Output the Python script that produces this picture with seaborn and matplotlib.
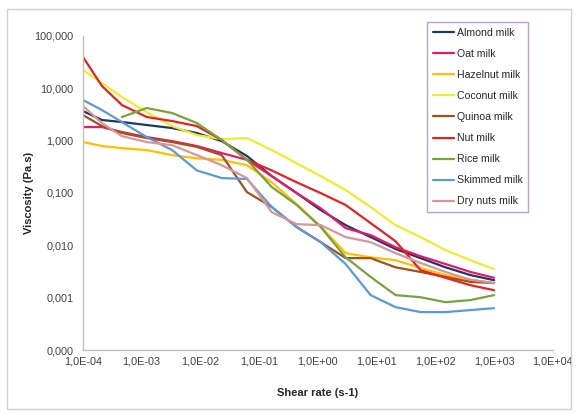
import matplotlib
matplotlib.use("Agg")
import matplotlib.pyplot as plt
import matplotlib.ticker as mticker
from matplotlib.patches import Rectangle
import numpy as np
import pandas as pd
import seaborn as sns

# shear rate grid (s-1)
shear = [1.0e-4, 2.1e-4, 4.6e-4, 1.22e-3, 3.3e-3, 8.7e-3, 2.3e-2, 6.2e-2, 0.164,
         0.436, 1.12, 2.97, 7.9, 21, 56, 149, 397, 1000]

almond = [3.68, 2.48, 2.27, 1.99, 1.74, 1.40, 0.98, 0.51, 0.21, 0.0995, 0.047,
          0.0243, 0.0144, 0.0085, 0.0057, 0.0038, 0.0027, 0.00216]
oat = [1.82, 1.82, 1.46, 1.17, 0.98, 0.79, 0.58, 0.43, 0.21, 0.0995, 0.051,
       0.0213, 0.0157, 0.0092, 0.0062, 0.0044, 0.0031, 0.0024]
hazelnut = [0.94, 0.79, 0.72, 0.66, 0.53, 0.46, 0.43, 0.34, 0.16, 0.061, 0.023,
            0.0071, 0.0059, 0.0052, 0.0037, 0.0027, 0.0022, 0.0019]
coconut = [22.4, 12.6, 6.8, 3.5, 1.90, 1.28, 1.07, 1.12, 0.66, 0.37, 0.21,
           0.114, 0.054, 0.0243, 0.0144, 0.0081, 0.0052, 0.0035]
quinoa = [3.09, 1.90, 1.40, 1.12, 0.94, 0.76, 0.53, 0.104, 0.054, 0.0223, 0.0115,
          0.0057, 0.0057, 0.0038, 0.0031, 0.0025, 0.0020, 0.0019]
nut = [39.7, 11.1, 4.8, 2.83, 2.37, 1.90, 1.03, 0.43, 0.27, 0.16, 0.0995,
       0.059, 0.0266, 0.0120, 0.00336, 0.0024, 0.00173, 0.00139]
rice = [np.nan, np.nan, 2.83, 4.2, 3.37, 2.17, 1.03, 0.43, 0.130, 0.059, 0.0223,
        0.0059, 0.0025, 0.00112, 0.00102, 0.00082, 0.00090, 0.00112]
skimmed = [5.97, 3.85, 2.27, 1.17, 0.66, 0.27, 0.193, 0.185, 0.054, 0.0223, 0.0115,
           0.0044, 0.00112, 0.00066, 0.00053, 0.00053, 0.00058, 0.00063]
dry_nuts = [4.6, 2.17, 1.22, 0.94, 0.82, 0.53, 0.34, 0.193, 0.043, 0.0254, 0.0243,
            0.0144, 0.0115, 0.0071, 0.0046, 0.0031, 0.0022, 0.0019]

series = {
    "Almond milk": almond,
    "Oat milk": oat,
    "Hazelnut milk": hazelnut,
    "Coconut milk": coconut,
    "Quinoa milk": quinoa,
    "Nut milk": nut,
    "Rice milk": rice,
    "Skimmed milk": skimmed,
    "Dry nuts milk": dry_nuts,
}
colors = ["#1F3864", "#E8196B", "#FFC000", "#EDED2E", "#A0521B",
          "#E62222", "#77A33F", "#5B9BD5", "#D9969A"]

df = pd.concat(
    [pd.DataFrame({"shear": shear, "visc": v, "milk": k}) for k, v in series.items()],
    ignore_index=True,
).dropna()

sns.set_style("white")
plt.rcParams["font.family"] = ["Liberation Sans", "DejaVu Sans"]

fig = plt.figure(figsize=(5.77, 4.15), dpi=100)
ax = fig.add_axes([0.1438, 0.1566, 0.8142, 0.7567])

sns.lineplot(data=df, x="shear", y="visc", hue="milk", hue_order=list(series),
             palette=colors, estimator=None, sort=False, linewidth=1.6, ax=ax)

ax.set_xscale("log")
ax.set_yscale("log")
ax.set_xlim(1e-4, 1e4)
ax.set_ylim(1e-4, 100)
ax.xaxis.set_major_locator(mticker.LogLocator(base=10, numticks=20))
ax.yaxis.set_major_locator(mticker.LogLocator(base=10, numticks=20))
ax.xaxis.set_minor_locator(mticker.NullLocator())
ax.yaxis.set_minor_locator(mticker.NullLocator())
ax.xaxis.set_major_formatter(mticker.FuncFormatter(lambda v, p: f"{v:.1E}".replace(".", ",")))
ax.yaxis.set_major_formatter(mticker.FuncFormatter(lambda v, p: f"{v:.3f}".replace(".", ",")))
ax.tick_params(axis="both", length=0, labelsize=7.8, colors="#404040")
ax.tick_params(axis="y", pad=7)
ax.tick_params(axis="x", pad=5)

for s in ["top", "right"]:
    ax.spines[s].set_visible(False)
for s in ["left", "bottom"]:
    ax.spines[s].set_color("#BFBFBF")
    ax.spines[s].set_linewidth(1.0)

ax.set_xlabel("Shear rate (s-1)", fontsize=8, fontweight="bold", color="#262626", labelpad=15)
ax.set_ylabel("Viscosity (Pa.s)", fontsize=8, fontweight="bold", color="#262626", labelpad=0)

handles, labels = ax.get_legend_handles_labels()
leg = ax.legend(handles, labels, loc="upper left", bbox_to_anchor=(0.740, 0.947),
                bbox_transform=fig.transFigure, fontsize=7.6, frameon=True,
                fancybox=False, borderaxespad=0, handlelength=2.0, handletextpad=0.25,
                labelspacing=1.05, borderpad=0.55)
leg.get_frame().set_edgecolor("#A58BC6")
leg.get_frame().set_linewidth(1.0)
for line in leg.get_lines():
    line.set_linewidth(1.6)

fig.patches.append(Rectangle((7 / 577, 1 - 409 / 415), 564 / 577, 400 / 415,
                             transform=fig.transFigure, fill=False,
                             edgecolor="#D0D0D0", linewidth=1.0))

fig.savefig("out.png", dpi=100)
